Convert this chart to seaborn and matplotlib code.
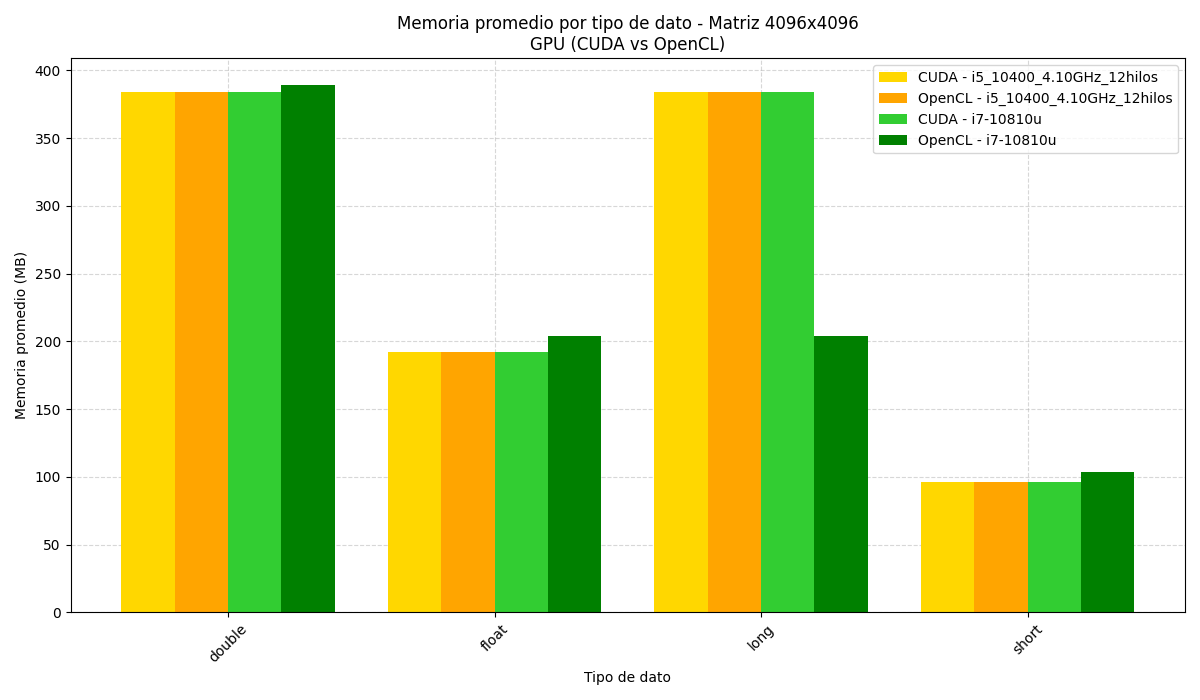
import matplotlib
matplotlib.use("Agg")
import matplotlib.pyplot as plt
import pandas as pd
import seaborn as sns

# datos
tipos = ["double", "float", "long", "short"]
series = ["CUDA - i5_10400_4.10GHz_12hilos", "OpenCL - i5_10400_4.10GHz_12hilos",
          "CUDA - i7-10810u", "OpenCL - i7-10810u"]
cuda_i5 = [384, 192, 384, 96]
opencl_i5 = [384, 192, 384, 96]
cuda_i7 = [384, 192, 384, 96]
opencl_i7 = [389.5, 204, 204, 103.5]
colores = ["gold", "orange", "limegreen", "green"]

filas = []
for serie, vals in zip(series, [cuda_i5, opencl_i5, cuda_i7, opencl_i7]):
    for t, v in zip(tipos, vals):
        filas.append({"Tipo de dato": t, "Serie": serie, "Memoria": v})
df = pd.DataFrame(filas)

fig, ax = plt.subplots(figsize=(12, 7), dpi=100)
sns.barplot(data=df, x="Tipo de dato", y="Memoria", hue="Serie",
            palette=colores, width=0.8, saturation=1, ax=ax)
ax.set_axisbelow(True)
ax.grid(True, linestyle="--", alpha=0.5)
ax.set_xlim(-0.59, 3.59)
ax.set_title("Memoria promedio por tipo de dato - Matriz 4096x4096\nGPU (CUDA vs OpenCL)")
ax.set_xlabel("Tipo de dato")
ax.set_ylabel("Memoria promedio (MB)")
ax.tick_params(axis="x", rotation=45)
ax.legend(loc="upper right", title=None)
plt.tight_layout()
plt.savefig("out.png")
